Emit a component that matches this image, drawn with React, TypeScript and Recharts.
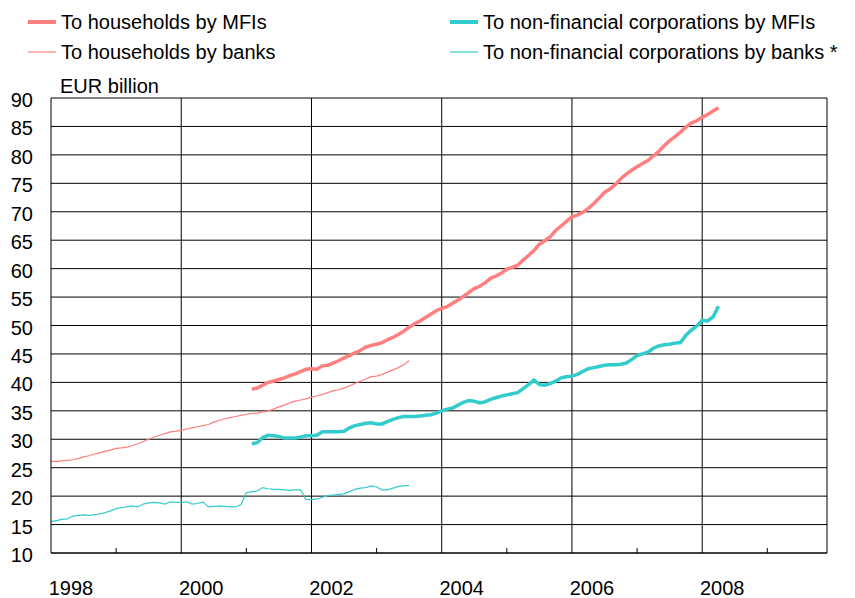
import React from "react";
import { LineChart, Line, XAxis, YAxis, CartesianGrid } from "recharts";

// monthly data, month index 0 = Jan 1998
const START_YEAR = 1998;
const LAST_MONTH = 143; // Dec 2009, right edge of the plot

// Jan 1998 - Jul 2003
const hhBanks = [
  26.1, 26.1, 26.2, 26.3, 26.4, 26.6, 26.9, 27.1, 27.4, 27.6, 27.9, 28.1,
  28.4, 28.5, 28.6, 28.9, 29.2, 29.6, 30.0, 30.4, 30.7, 31.0, 31.3, 31.4,
  31.6, 31.8, 32.0, 32.2, 32.4, 32.6, 33.0, 33.3, 33.6, 33.8, 34.0, 34.2,
  34.4, 34.5, 34.6, 34.8, 35.0, 35.3, 35.7, 36.0, 36.4, 36.7, 36.9, 37.1,
  37.4, 37.6, 37.9, 38.2, 38.5, 38.7, 39.0, 39.4, 39.8, 40.2, 40.6, 41.0,
  41.1, 41.4, 41.8, 42.2, 42.6, 43.1, 43.8,
];

const nfcBanks = [
  15.5, 15.7, 15.9, 16.0, 16.5, 16.6, 16.7, 16.6, 16.7, 16.9, 17.1, 17.4,
  17.8, 18.0, 18.1, 18.3, 18.1, 18.6, 18.8, 18.9, 18.8, 18.6, 19.0, 18.9,
  18.9, 19.0, 18.6, 18.7, 19.0, 18.1, 18.2, 18.3, 18.2, 18.1, 18.1, 18.5,
  20.6, 20.8, 20.9, 21.5, 21.3, 21.2, 21.2, 21.1, 21.0, 21.1, 21.1, 19.4,
  19.4, 19.5, 19.8, 20.1, 20.2, 20.3, 20.4, 20.8, 21.2, 21.4, 21.5, 21.8,
  21.6, 21.1, 21.1, 21.4, 21.7, 21.8, 21.9,
];

// Feb 2001 - Apr 2008
const MFI_START = 37;
const hhMfi = [
  38.8, 39.0, 39.5, 40.0, 40.2, 40.5, 40.8, 41.2, 41.5, 41.9, 42.3,
  42.4, 42.3, 42.9, 43.0, 43.4, 43.8, 44.3, 44.7, 45.2, 45.6, 46.2, 46.5,
  46.7, 47.0, 47.5, 47.9, 48.4, 49.0, 49.7, 50.3, 50.8, 51.4, 52.0, 52.6,
  53.0, 53.3, 53.9, 54.5, 55.1, 55.8, 56.5, 56.9, 57.5, 58.3, 58.7, 59.2,
  59.9, 60.2, 60.6, 61.5, 62.3, 63.2, 64.3, 64.9, 65.6, 66.7, 67.5, 68.3,
  69.1, 69.4, 69.9, 70.6, 71.4, 72.4, 73.4, 74.0, 74.8, 75.8, 76.6, 77.3,
  77.9, 78.5, 79.0, 79.8, 80.6, 81.6, 82.5, 83.2, 84.0, 84.9, 85.6, 86.0,
  86.6, 87.1, 87.7, 88.3,
];

const nfcMfi = [
  29.2, 29.4, 30.3, 30.7, 30.6, 30.5, 30.2, 30.2, 30.2, 30.4, 30.6,
  30.6, 30.7, 31.3, 31.3, 31.3, 31.3, 31.4, 32.0, 32.4, 32.6, 32.8, 32.9,
  32.7, 32.7, 33.1, 33.5, 33.8, 34.0, 34.0, 34.0, 34.1, 34.2, 34.3, 34.6,
  35.0, 35.3, 35.5, 36.0, 36.5, 36.8, 36.7, 36.4, 36.6, 37.0, 37.3, 37.6,
  37.8, 38.0, 38.2, 38.9, 39.6, 40.4, 39.6, 39.5, 39.8, 40.2, 40.8, 41.0,
  41.1, 41.4, 41.9, 42.4, 42.6, 42.8, 43.0, 43.1, 43.1, 43.2, 43.4, 44.0,
  44.7, 45.0, 45.3, 46.0, 46.4, 46.6, 46.7, 46.9, 47.0, 48.3, 49.2, 49.9,
  50.9, 50.8, 51.5, 53.4,
];

const yTicks = [10, 15, 20, 25, 30, 35, 40, 45, 50, 55, 60, 65, 70, 75, 80, 85, 90];
const yearTicks = [1998, 1999, 2000, 2001, 2002, 2003, 2004, 2005, 2006, 2007, 2008, 2009];
const gridYears = [2000, 2002, 2004, 2006, 2008];

const seriesNames = {
  hhMfi: "To households by MFIs",
  hhBanks: "To households by banks",
  nfcMfi: "To non-financial corporations by MFIs",
  nfcBanks: "To non-financial corporations by banks *",
};

const PINK = "#FF7F7F";
const TEAL = "#33CCCC";
const FONT = '"Liberation Sans", Arial, sans-serif';
const X_MAX = START_YEAR + LAST_MONTH / 12;

const data = [];
for (let i = 0; i <= LAST_MONTH; i++) {
  const m = i - MFI_START;
  data.push({
    t: START_YEAR + i / 12,
    hhBanks: i < hhBanks.length ? hhBanks[i] : null,
    nfcBanks: i < nfcBanks.length ? nfcBanks[i] : null,
    hhMfi: m >= 0 && m < hhMfi.length ? hhMfi[m] : null,
    nfcMfi: m >= 0 && m < nfcMfi.length ? nfcMfi[m] : null,
  });
}

// even years get a label, odd years a small inward tick
const XTick = ({ x, y, payload }: any) => {
  const yr = payload.value;
  if (yr % 2 === 1) {
    return <line x1={x} x2={x} y1={y} y2={y - 5} stroke="#000" />;
  }
  return (
    <text x={x + 20} y={y + 42} textAnchor="middle" fontSize={20} fill="#000" fontFamily={FONT}>
      {yr}
    </text>
  );
};

const YTick = ({ x, y, payload }: any) => (
  <text x={x} y={y + 9} textAnchor="end" fontSize={20} fill="#000" fontFamily={FONT}>
    {payload.value}
  </text>
);

const legendItems = [
  { key: "hhMfi", color: PINK, width: 4, x: 28, y: 22 },
  { key: "hhBanks", color: PINK, width: 1.2, x: 28, y: 52 },
  { key: "nfcMfi", color: TEAL, width: 4, x: 450, y: 22 },
  { key: "nfcBanks", color: TEAL, width: 1.2, x: 450, y: 52 },
];

export default function App() {
  return (
    <div style={{ position: "absolute", left: 0, top: 0, width: 855, height: 598, background: "#fff" }}>
      <LineChart
        width={855}
        height={598}
        data={data}
        margin={{ top: 98, right: 28, bottom: 0, left: 0 }}
        style={{ fontFamily: FONT }}
      >
        <CartesianGrid
          stroke="#000"
          strokeWidth={1}
          verticalValues={[...gridYears, X_MAX]}
          horizontalValues={yTicks}
        />
        <XAxis
          dataKey="t"
          type="number"
          domain={[START_YEAR, X_MAX]}
          ticks={yearTicks}
          interval={0}
          tick={<XTick />}
          tickLine={false}
          tickSize={0}
          tickMargin={0}
          axisLine={{ stroke: "#000" }}
          height={45}
          allowDataOverflow
        />
        <YAxis
          type="number"
          domain={[10, 90]}
          ticks={yTicks}
          interval={0}
          width={51}
          tickLine={false}
          tickSize={0}
          tickMargin={18}
          axisLine={{ stroke: "#000" }}
          tick={<YTick />}
          allowDataOverflow
        />
        <Line dataKey="hhBanks" stroke={PINK} strokeWidth={1.2} dot={false} isAnimationActive={false} />
        <Line dataKey="nfcBanks" stroke={TEAL} strokeWidth={1.2} dot={false} isAnimationActive={false} />
        <Line dataKey="hhMfi" stroke={PINK} strokeWidth={3.5} dot={false} isAnimationActive={false} />
        <Line dataKey="nfcMfi" stroke={TEAL} strokeWidth={3.5} dot={false} isAnimationActive={false} />
      </LineChart>
      <svg
        width={855}
        height={100}
        style={{ position: "absolute", left: 0, top: 0, pointerEvents: "none" }}
        fontFamily={FONT}
      >
        {legendItems.map((it) => (
          <g key={it.key}>
            <line x1={it.x} x2={it.x + 28} y1={it.y} y2={it.y} stroke={it.color} strokeWidth={it.width} />
            <text x={it.x + 33} y={it.y + 7} fontSize={20} fill="#000">
              {seriesNames[it.key as keyof typeof seriesNames]}
            </text>
          </g>
        ))}
        <text x={60} y={93} fontSize={20} fill="#000">EUR billion</text>
      </svg>
    </div>
  );
}
